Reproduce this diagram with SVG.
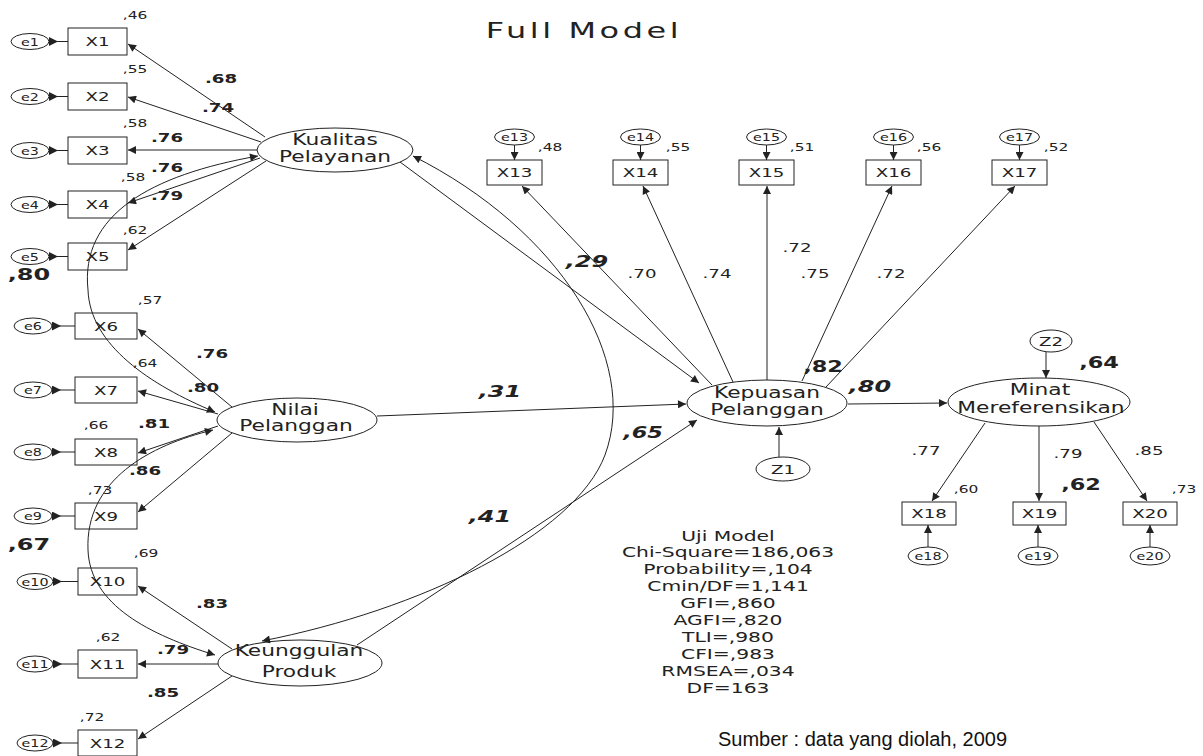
<svg xmlns="http://www.w3.org/2000/svg" width="1203" height="756" viewBox="0 0 1203 756">
<style>
  rect, ellipse { fill: #fff; stroke: #222; stroke-width: 1; }
  .c { fill: none; stroke: #222; stroke-width: 1; }
  .t { font-family: "DejaVu Sans", "Liberation Sans", sans-serif; fill: #222; text-anchor: middle; }
  .nd { font-size: 15px; }
  .bx { font-size: 13px; }
  .er { font-size: 11px; }
  .ld { font-size: 13px; }
  .r2 { font-size: 11px; }
  .st { font-size: 14px; }
  .b { font-weight: bold; }
  .bi { font-size: 16px; font-weight: bold; font-style: italic; }
  .bn { font-size: 16px; font-weight: bold; }
  .ttl { font-size: 22px; letter-spacing: 2.5px; }
  .src { font-family: "Liberation Sans", Arial, sans-serif; font-size: 20px; fill: #111; }
</style>
<defs>
  <marker id="ah" viewBox="0 0 10 10" refX="10" refY="5" markerWidth="10" markerHeight="8" markerUnits="userSpaceOnUse" orient="auto"><path d="M0,0L10,5L0,10z" fill="#222"/></marker>
  <marker id="ahs" viewBox="0 0 10 10" refX="10" refY="5" markerWidth="10" markerHeight="8" markerUnits="userSpaceOnUse" orient="auto-start-reverse"><path d="M0,0L10,5L0,10z" fill="#222"/></marker>
  <marker id="eh" viewBox="0 0 10 10" refX="0" refY="5" markerWidth="10" markerHeight="9" markerUnits="userSpaceOnUse" orient="auto"><path d="M0,0L10,5L0,10z" fill="#222"/></marker>
</defs>
<rect x="0" y="0" width="1203" height="756" style="stroke:none"/>

<text class="t ttl" transform="matrix(1.45 0 0 1 584 38)">Full Model</text>

<!-- latent variables -->
<g id="kualitas"><ellipse cx="335" cy="150" rx="78" ry="22"/>
  <text class="t nd" transform="matrix(1.45 0 0 1 335 145)">Kualitas</text>
  <text class="t nd" transform="matrix(1.45 0 0 1 335 162)">Pelayanan</text></g>
<g id="nilai"><ellipse cx="297" cy="420" rx="80" ry="22"/>
  <text class="t nd" transform="matrix(1.45 0 0 1 295 415)">Nilai</text>
  <text class="t nd" transform="matrix(1.45 0 0 1 296 431)">Pelanggan</text></g>
<g id="keunggulan"><ellipse cx="300" cy="663" rx="82" ry="23"/>
  <text class="t nd" transform="matrix(1.45 0 0 1 299 656)">Keunggulan</text>
  <text class="t nd" transform="matrix(1.45 0 0 1 299 677)">Produk</text></g>
<g id="kepuasan"><ellipse cx="767" cy="403" rx="80" ry="23"/>
  <text class="t nd" transform="matrix(1.45 0 0 1 767 398)">Kepuasan</text>
  <text class="t nd" transform="matrix(1.45 0 0 1 767 415)">Pelanggan</text></g>
<g id="minat"><ellipse cx="1039" cy="402" rx="91" ry="24"/>
  <text class="t nd" transform="matrix(1.45 0 0 1 1040 395)">Minat</text>
  <text class="t nd" transform="matrix(1.45 0 0 1 1041 413)">Mereferensikan</text></g>
<g id="z1"><ellipse cx="783" cy="469" rx="27" ry="12"/>
  <text class="t bx" transform="matrix(1.4 0 0 1 783 474)">Z1</text></g>
<g id="z2"><ellipse cx="1051" cy="341" rx="21" ry="11"/>
  <text class="t bx" transform="matrix(1.4 0 0 1 1051 346)">Z2</text></g>

<!-- observed indicators -->
<g id="x1"><rect x="68" y="28" width="59" height="27"/><text class="t bx" transform="matrix(1.4 0 0 1 97.5 46)">X1</text></g>
<g id="x2"><rect x="68" y="83" width="59" height="27"/><text class="t bx" transform="matrix(1.4 0 0 1 97.5 101)">X2</text></g>
<g id="x3"><rect x="68" y="137" width="59" height="27"/><text class="t bx" transform="matrix(1.4 0 0 1 97.5 155)">X3</text></g>
<g id="x4"><rect x="68" y="191" width="59" height="27"/><text class="t bx" transform="matrix(1.4 0 0 1 97.5 209)">X4</text></g>
<g id="x5"><rect x="68" y="243" width="59" height="27"/><text class="t bx" transform="matrix(1.4 0 0 1 97.5 261)">X5</text></g>
<g id="x6"><rect x="75" y="313" width="62" height="26"/><text class="t bx" transform="matrix(1.4 0 0 1 106 331)">X6</text></g>
<g id="x7"><rect x="75" y="377" width="62" height="26"/><text class="t bx" transform="matrix(1.4 0 0 1 106 395)">X7</text></g>
<g id="x8"><rect x="75" y="439" width="62" height="26"/><text class="t bx" transform="matrix(1.4 0 0 1 106 457)">X8</text></g>
<g id="x9"><rect x="75" y="503" width="62" height="26"/><text class="t bx" transform="matrix(1.4 0 0 1 106 521)">X9</text></g>
<g id="x10"><rect x="78" y="568" width="59" height="27"/><text class="t bx" transform="matrix(1.4 0 0 1 107.5 586)">X10</text></g>
<g id="x11"><rect x="78" y="650" width="59" height="28"/><text class="t bx" transform="matrix(1.4 0 0 1 107.5 669)">X11</text></g>
<g id="x12"><rect x="78" y="730" width="59" height="26"/><text class="t bx" transform="matrix(1.4 0 0 1 107.5 748)">X12</text></g>
<g id="x13"><rect x="487" y="160" width="55" height="25"/><text class="t bx" transform="matrix(1.4 0 0 1 514.5 177)">X13</text></g>
<g id="x14"><rect x="613" y="160" width="55" height="25"/><text class="t bx" transform="matrix(1.4 0 0 1 640.5 177)">X14</text></g>
<g id="x15"><rect x="739" y="160" width="55" height="25"/><text class="t bx" transform="matrix(1.4 0 0 1 766.5 177)">X15</text></g>
<g id="x16"><rect x="866" y="160" width="55" height="25"/><text class="t bx" transform="matrix(1.4 0 0 1 893.5 177)">X16</text></g>
<g id="x17"><rect x="992" y="160" width="55" height="25"/><text class="t bx" transform="matrix(1.4 0 0 1 1019.5 177)">X17</text></g>
<g id="x18"><rect x="902" y="502" width="54" height="23"/><text class="t bx" transform="matrix(1.4 0 0 1 929 518)">X18</text></g>
<g id="x19"><rect x="1013" y="502" width="53" height="23"/><text class="t bx" transform="matrix(1.4 0 0 1 1039.5 518)">X19</text></g>
<g id="x20"><rect x="1123" y="502" width="54" height="23"/><text class="t bx" transform="matrix(1.4 0 0 1 1150 518)">X20</text></g>

<!-- error terms -->
<g id="e1"><ellipse cx="30" cy="41.5" rx="19" ry="8"/><text class="t er" transform="matrix(1.3 0 0 1 30 45.5)">e1</text></g>
<g id="e2"><ellipse cx="30" cy="96.5" rx="19" ry="8"/><text class="t er" transform="matrix(1.3 0 0 1 30 100.5)">e2</text></g>
<g id="e3"><ellipse cx="30" cy="150.5" rx="19" ry="8"/><text class="t er" transform="matrix(1.3 0 0 1 30 154.5)">e3</text></g>
<g id="e4"><ellipse cx="30" cy="204.5" rx="19" ry="8"/><text class="t er" transform="matrix(1.3 0 0 1 30 208.5)">e4</text></g>
<g id="e5"><ellipse cx="30" cy="256.5" rx="19" ry="8"/><text class="t er" transform="matrix(1.3 0 0 1 30 260.5)">e5</text></g>
<g id="e6"><ellipse cx="33" cy="326" rx="19" ry="8"/><text class="t er" transform="matrix(1.3 0 0 1 33 330)">e6</text></g>
<g id="e7"><ellipse cx="33" cy="390" rx="19" ry="8"/><text class="t er" transform="matrix(1.3 0 0 1 33 394)">e7</text></g>
<g id="e8"><ellipse cx="33" cy="452" rx="19" ry="8"/><text class="t er" transform="matrix(1.3 0 0 1 33 456)">e8</text></g>
<g id="e9"><ellipse cx="33" cy="516" rx="19" ry="8"/><text class="t er" transform="matrix(1.3 0 0 1 33 520)">e9</text></g>
<g id="e10"><ellipse cx="35" cy="581.5" rx="18" ry="8"/><text class="t er" transform="matrix(1.3 0 0 1 35 585.5)">e10</text></g>
<g id="e11"><ellipse cx="35" cy="664" rx="18" ry="8"/><text class="t er" transform="matrix(1.3 0 0 1 35 668)">e11</text></g>
<g id="e12"><ellipse cx="35" cy="743" rx="18" ry="8"/><text class="t er" transform="matrix(1.3 0 0 1 35 747)">e12</text></g>
<g id="e13"><ellipse cx="514.5" cy="137" rx="20" ry="8"/><text class="t er" transform="matrix(1.3 0 0 1 514.5 141)">e13</text></g>
<g id="e14"><ellipse cx="640.5" cy="137" rx="20" ry="8"/><text class="t er" transform="matrix(1.3 0 0 1 640.5 141)">e14</text></g>
<g id="e15"><ellipse cx="766.5" cy="137" rx="20" ry="8"/><text class="t er" transform="matrix(1.3 0 0 1 766.5 141)">e15</text></g>
<g id="e16"><ellipse cx="893.5" cy="137" rx="20" ry="8"/><text class="t er" transform="matrix(1.3 0 0 1 893.5 141)">e16</text></g>
<g id="e17"><ellipse cx="1019.5" cy="137" rx="20" ry="8"/><text class="t er" transform="matrix(1.3 0 0 1 1019.5 141)">e17</text></g>
<g id="e18"><ellipse cx="928" cy="556" rx="20" ry="9"/><text class="t er" transform="matrix(1.3 0 0 1 928 560)">e18</text></g>
<g id="e19"><ellipse cx="1038" cy="556" rx="20" ry="9"/><text class="t er" transform="matrix(1.3 0 0 1 1038 560)">e19</text></g>
<g id="e20"><ellipse cx="1150" cy="556" rx="20" ry="9"/><text class="t er" transform="matrix(1.3 0 0 1 1150 560)">e20</text></g>

<!-- connectors -->
<g id="connectors">
  <!-- error terms into indicators -->
  <path class="c" marker-start="url(#eh)" d="M49,41.5H68"/>
  <path class="c" marker-start="url(#eh)" d="M49,96.5H68"/>
  <path class="c" marker-start="url(#eh)" d="M49,150.5H68"/>
  <path class="c" marker-start="url(#eh)" d="M49,204.5H68"/>
  <path class="c" marker-start="url(#eh)" d="M49,256.5H68"/>
  <path class="c" marker-start="url(#eh)" d="M52,326H75"/>
  <path class="c" marker-start="url(#eh)" d="M52,390H75"/>
  <path class="c" marker-start="url(#eh)" d="M52,452H75"/>
  <path class="c" marker-start="url(#eh)" d="M52,516H75"/>
  <path class="c" marker-start="url(#eh)" d="M53,581.5H78"/>
  <path class="c" marker-start="url(#eh)" d="M53,664H78"/>
  <path class="c" marker-start="url(#eh)" d="M53,743H78"/>
  <path class="c" marker-end="url(#ah)" d="M514.5,145V160"/>
  <path class="c" marker-end="url(#ah)" d="M640.5,145V160"/>
  <path class="c" marker-end="url(#ah)" d="M766.5,145V160"/>
  <path class="c" marker-end="url(#ah)" d="M893.5,145V160"/>
  <path class="c" marker-end="url(#ah)" d="M1019.5,145V160"/>
  <path class="c" marker-end="url(#ah)" d="M928,547V525"/>
  <path class="c" marker-end="url(#ah)" d="M1038,547V525"/>
  <path class="c" marker-end="url(#ah)" d="M1150,547V525"/>
  <!-- disturbances -->
  <path class="c" marker-end="url(#ah)" d="M779,457V427"/>
  <path class="c" marker-end="url(#ah)" d="M1046,352V378"/>
  <!-- loadings: Kualitas Pelayanan -->
  <path class="c" marker-end="url(#ah)" d="M265,137L128,44"/>
  <path class="c" marker-end="url(#ah)" d="M261,142L128,97"/>
  <path class="c" marker-end="url(#ah)" d="M257,150L128,150"/>
  <path class="c" marker-end="url(#ah)" d="M260,158L128,203"/>
  <path class="c" marker-end="url(#ah)" d="M266,161L128,250"/>
  <!-- loadings: Nilai Pelanggan -->
  <path class="c" marker-end="url(#ah)" d="M232,407L138,329"/>
  <path class="c" marker-end="url(#ah)" d="M218,414L138,391"/>
  <path class="c" marker-end="url(#ah)" d="M218,426L138,453"/>
  <path class="c" marker-end="url(#ah)" d="M232,433L138,512"/>
  <!-- loadings: Keunggulan Produk -->
  <path class="c" marker-end="url(#ah)" d="M232,649L138,586"/>
  <path class="c" marker-end="url(#ah)" d="M218,664L138,664"/>
  <path class="c" marker-end="url(#ah)" d="M232,676L138,739"/>
  <!-- loadings: Kepuasan Pelanggan -->
  <path class="c" marker-end="url(#ah)" d="M712,385L522,186"/>
  <path class="c" marker-end="url(#ah)" d="M733,382L643,186"/>
  <path class="c" marker-end="url(#ah)" d="M767,380L767,186"/>
  <path class="c" marker-end="url(#ah)" d="M802,381L892,186"/>
  <path class="c" marker-end="url(#ah)" d="M826,387L1015,186"/>
  <!-- loadings: Minat Mereferensikan -->
  <path class="c" marker-end="url(#ah)" d="M985,423L932,501"/>
  <path class="c" marker-end="url(#ah)" d="M1039,426L1039,501"/>
  <path class="c" marker-end="url(#ah)" d="M1094,422L1147,501"/>
  <!-- structural paths -->
  <path class="c" marker-end="url(#ah)" d="M400,162L699,383"/>
  <path class="c" marker-end="url(#ah)" d="M377,416L686,404"/>
  <path class="c" marker-end="url(#ah)" d="M357,645L697,420"/>
  <path class="c" marker-end="url(#ah)" d="M848,404L947,403"/>
  <!-- covariances -->
  <path class="c" marker-start="url(#ahs)" marker-end="url(#ah)" d="M258,156C150,175 80,215 88,290C90,345 150,385 215,412"/>
  <path class="c" marker-start="url(#ahs)" marker-end="url(#ah)" d="M213,430C150,445 85,480 88,550C90,605 150,635 215,655"/>
  <path class="c" marker-start="url(#ahs)" marker-end="url(#ah)" d="M413,156C560,230 640,360 605,455C575,535 420,610 262,641"/>
</g>

<!-- estimates -->
<g id="estimates">
  <text class="t r2" transform="matrix(1.4 0 0 1 135 19)">,46</text>
  <text class="t r2" transform="matrix(1.4 0 0 1 135 73)">,55</text>
  <text class="t r2" transform="matrix(1.4 0 0 1 135 127)">,58</text>
  <text class="t r2" transform="matrix(1.4 0 0 1 133 181)">,58</text>
  <text class="t r2" transform="matrix(1.4 0 0 1 135 234)">,62</text>
  <text class="t ld b" transform="matrix(1.4 0 0 1 221 83)">.68</text>
  <text class="t ld b" transform="matrix(1.4 0 0 1 218 112)">.74</text>
  <text class="t ld b" transform="matrix(1.4 0 0 1 167 142)">.76</text>
  <text class="t ld b" transform="matrix(1.4 0 0 1 167 172)">.76</text>
  <text class="t ld b" transform="matrix(1.4 0 0 1 167 200)">.79</text>
  <text class="t bn" transform="matrix(1.5 0 0 1 29 280)">,80</text>

  <text class="t r2" transform="matrix(1.4 0 0 1 150 304)">,57</text>
  <text class="t ld b" transform="matrix(1.4 0 0 1 212 358)">.76</text>
  <text class="t r2" transform="matrix(1.4 0 0 1 145 367)">,64</text>
  <text class="t ld b" transform="matrix(1.4 0 0 1 203 392)">.80</text>
  <text class="t r2" transform="matrix(1.4 0 0 1 96 429)">,66</text>
  <text class="t ld b" transform="matrix(1.4 0 0 1 154 428)">.81</text>
  <text class="t ld b" transform="matrix(1.4 0 0 1 145 475)">.86</text>
  <text class="t r2" transform="matrix(1.4 0 0 1 100 494)">,73</text>
  <text class="t bn" transform="matrix(1.5 0 0 1 29 550)">,67</text>

  <text class="t r2" transform="matrix(1.4 0 0 1 146 557)">,69</text>
  <text class="t ld b" transform="matrix(1.4 0 0 1 212 608)">.83</text>
  <text class="t r2" transform="matrix(1.4 0 0 1 108 641)">,62</text>
  <text class="t ld b" transform="matrix(1.4 0 0 1 173 654)">.79</text>
  <text class="t ld b" transform="matrix(1.4 0 0 1 163 697)">.85</text>
  <text class="t r2" transform="matrix(1.4 0 0 1 92 721)">,72</text>

  <text class="t r2" transform="matrix(1.4 0 0 1 550 151)">,48</text>
  <text class="t r2" transform="matrix(1.4 0 0 1 678 151)">,55</text>
  <text class="t r2" transform="matrix(1.4 0 0 1 802 151)">,51</text>
  <text class="t r2" transform="matrix(1.4 0 0 1 929 151)">,56</text>
  <text class="t r2" transform="matrix(1.4 0 0 1 1056 151)">,52</text>
  <text class="t ld" transform="matrix(1.4 0 0 1 642 278)">.70</text>
  <text class="t ld" transform="matrix(1.4 0 0 1 717 278)">.74</text>
  <text class="t ld" transform="matrix(1.4 0 0 1 797 252)">.72</text>
  <text class="t ld" transform="matrix(1.4 0 0 1 815 278)">.75</text>
  <text class="t ld" transform="matrix(1.4 0 0 1 891 278)">.72</text>
  <text class="t bn" transform="matrix(1.4 0 0 1 823 372)">,82</text>
  <text class="t bi" transform="matrix(1.5 0 0 1 870 392)">,80</text>

  <text class="t bi" transform="matrix(1.5 0 0 1 587 267)">,29</text>
  <text class="t bi" transform="matrix(1.5 0 0 1 500 397)">,31</text>
  <text class="t bi" transform="matrix(1.4 0 0 1 643 438)">,65</text>
  <text class="t bi" transform="matrix(1.5 0 0 1 490 522)">,41</text>
  <text class="t bn" transform="matrix(1.4 0 0 1 1099 368)">,64</text>

  <text class="t ld" transform="matrix(1.4 0 0 1 926 455)">.77</text>
  <text class="t ld" transform="matrix(1.4 0 0 1 1068 458)">.79</text>
  <text class="t ld" transform="matrix(1.4 0 0 1 1149 455)">.85</text>
  <text class="t r2" transform="matrix(1.4 0 0 1 966 493)">,60</text>
  <text class="t bn" transform="matrix(1.4 0 0 1 1081 490)">,62</text>
  <text class="t r2" transform="matrix(1.4 0 0 1 1184 493)">,73</text>
</g>

<!-- goodness-of-fit summary -->
<g id="fit">
  <text class="t st" transform="matrix(1.45 0 0 1 728 541)">Uji Model</text>
  <text class="t st" transform="matrix(1.45 0 0 1 728 557)">Chi-Square=186,063</text>
  <text class="t st" transform="matrix(1.45 0 0 1 728 574)">Probability=,104</text>
  <text class="t st" transform="matrix(1.45 0 0 1 728 591)">Cmin/DF=1,141</text>
  <text class="t st" transform="matrix(1.45 0 0 1 728 608)">GFI=,860</text>
  <text class="t st" transform="matrix(1.45 0 0 1 728 625)">AGFI=,820</text>
  <text class="t st" transform="matrix(1.45 0 0 1 728 642)">TLI=,980</text>
  <text class="t st" transform="matrix(1.45 0 0 1 728 659)">CFI=,983</text>
  <text class="t st" transform="matrix(1.45 0 0 1 728 676)">RMSEA=,034</text>
  <text class="t st" transform="matrix(1.45 0 0 1 728 693)">DF=163</text>
</g>
<text class="src" x="718" y="746">Sumber : data yang diolah, 2009</text>
</svg>
